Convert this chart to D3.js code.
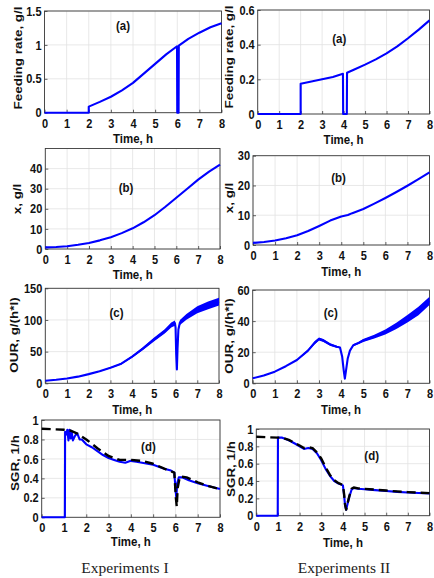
<!DOCTYPE html>
<html><head><meta charset="utf-8">
<script src="https://cdn.jsdelivr.net/npm/d3@7"></script>
<style>body{margin:0;background:#fff}svg{display:block}</style>
</head><body>
<svg id="c" width="434" height="578"></svg>
<script>
// ---------- data ----------
const timeTicks = [0,1,2,3,4,5,6,7,8];

const feedI_t = [0,2,2,2.5,3,3.5,4,4.5,5,5.5,5.99,6.0,6.06,6.07,6.5,7,7.5,8];
const feedI_v = [0,0,0.09,0.16,0.235,0.33,0.44,0.58,0.72,0.86,0.98,0,0,0.99,1.09,1.18,1.26,1.32];

const feedII_t = [0,2,2,2.5,3,3.5,3.97,3.98,4.15,4.16,4.5,5,5.5,6,6.5,7,7.5,8];
const feedII_v = [0,0,0.175,0.187,0.2,0.214,0.232,0,0,0.238,0.257,0.285,0.315,0.35,0.39,0.437,0.487,0.54];

const xI_t = [0,0.5,1,1.5,2,2.5,3,3.5,4,4.5,5,5.5,6,6.5,7,7.5,8];
const xI_v = [0.8,1.0,1.4,2.1,3.0,4.3,5.9,7.9,10.3,13.3,16.8,21,25.5,30,34.5,38.5,42];

const xII_t = [0,0.5,1,1.5,2,2.5,3,3.5,4,4.3,4.5,5,5.5,6,6.5,7,7.5,8];
const xII_v = [0.7,1.0,1.5,2.3,3.3,4.7,6.4,8.2,9.6,10.1,10.7,12.1,13.9,15.8,17.8,19.9,22.1,24.4];

const ourI_t = [0,0.5,1,1.5,2,2.5,3,3.5,4,4.5,5,5.5,5.8,5.97,6.0,6.03,6.06,6.09,6.13,6.2,6.5,7,7.5,8];
const ourI_v = [4,5.5,7.5,10.5,14.5,19,24.5,31,42,55,69,82,92,95,88,45,22,55,85,96,105,116,123,129];
const ourI_n = [0,0,0,0,0.4,0.6,0.8,1.2,1.6,2.4,3,3.5,4,4,2.5,1,0,1,2.5,4,4.5,5.5,6,6];

const ourII_t = [0,0.5,1,1.5,2,2.5,2.8,3,3.2,3.5,3.8,3.95,4.05,4.12,4.17,4.22,4.3,4.4,4.55,4.8,5,5.5,6,6.5,7,7.5,8];
const ourII_v = [3.2,5,7.5,11,15,21,26,28.5,27.5,25,23.5,23,17,8,3,8,16,21,24.5,26,27.5,30,33,37,41.5,46.5,53];
const ourII_n = [0,0,0,0,0.3,0.7,1,1,1,0.8,0.6,0.4,0.2,0,0,0,0.2,0.4,0.6,0.8,1,1.2,1.6,2,2.4,2.7,2.7];

const sgrI_t = [0,1.04,1.05,1.1,1.15,1.2,1.25,1.3,1.35,1.4,1.5,1.6,1.7,1.8,2,2.25,2.5,2.75,3,3.25,3.5,3.75,4,4.25,4.5,5,5.5,5.8,5.95,6.0,6.04,6.08,6.15,6.3,6.6,7,7.5,8];
const sgrI_v = [0,0,0.88,0.85,0.9,0.79,0.9,0.81,0.87,0.79,0.84,0.86,0.8,0.8,0.75,0.72,0.68,0.64,0.61,0.59,0.57,0.56,0.58,0.57,0.56,0.54,0.5,0.48,0.46,0.3,0.2,0.35,0.41,0.41,0.38,0.35,0.32,0.29];
const sgrIm_t = [0,1,1.3,1.6,2,2.5,3,3.5,4,4.5,5,5.5,5.95,6.02,6.06,6.1,6.2,6.5,7,7.5,8];
const sgrIm_v = [0.91,0.9,0.89,0.86,0.8,0.71,0.63,0.59,0.59,0.58,0.55,0.5,0.46,0.2,0.11,0.3,0.42,0.41,0.36,0.32,0.29];

const sgrII_t = [0,0.99,1.0,1.2,1.5,1.8,2,2.2,2.4,2.6,2.8,3,3.2,3.4,3.6,3.8,4.0,4.05,4.1,4.15,4.2,4.3,4.4,4.5,4.7,5,5.5,6,6.5,7,7.5,8];
const sgrII_v = [0,0,0.9,0.9,0.87,0.83,0.8,0.77,0.78,0.77,0.72,0.64,0.54,0.46,0.4,0.37,0.35,0.25,0.12,0.07,0.12,0.22,0.3,0.32,0.31,0.305,0.295,0.285,0.275,0.268,0.262,0.258];
const sgrIIm_t = [0,1.0,1.2,1.5,1.8,2,2.2,2.4,2.6,2.8,3,3.2,3.4,3.6,3.8,4.0,4.05,4.1,4.15,4.2,4.3,4.4,4.5,4.7,5,5.5,6,6.5,7,7.5,8];
const sgrIIm_v = [0.91,0.9,0.9,0.875,0.835,0.81,0.78,0.79,0.78,0.73,0.66,0.56,0.47,0.41,0.375,0.355,0.26,0.13,0.07,0.13,0.23,0.31,0.325,0.315,0.31,0.3,0.29,0.28,0.272,0.265,0.26];

const yTicks1 = [0,0.5,1,1.5];
const yTicks2 = [0,0.2,0.4,0.6];
const yTicks3 = [0,10,20,30,40];
const yTicks4 = [0,10,20,30];
const yTicks5 = [0,50,100,150];
const yTicks6 = [0,20,40,60];
const yTicks7 = [0,0.2,0.4,0.6,0.8,1];

const colTitles = ["Experiments I","Experiments II"];

const zip = (t,v,n) => t.map((d,i)=>({t:d, v:v[i], n:n?n[i]:0}));

// ---------- layout ----------
const panels = [
 {x0:44.5,x1:221.5,yT:11,yB:112.7,ydom:[0,1.5],yt:yTicks1,ylab:"Feeding rate, g/l",ylx:18,yly:58,xlb:30.5,tag:"(a)",tagAt:[3.55,1.29],
  lines:[{d:zip(feedI_t,feedI_v)}]},
 {x0:257.7,x1:429.5,yT:10,yB:114,ydom:[0,0.6],yt:yTicks2,ylab:"Feeding rate, g/l",ylx:229,yly:57,xlb:30,tag:"(a)",tagAt:[3.8,0.433],
  lines:[{d:zip(feedII_t,feedII_v)}]},
 {x0:45.3,x1:220,yT:148.5,yB:249,ydom:[0,50],yt:yTicks3,ylab:"x, g/l",ylx:17,yly:199,xlb:30,tag:"(b)",tagAt:[3.7,30.3],
  lines:[{d:zip(xI_t,xI_v)}]},
 {x0:253,x1:429.5,yT:155.7,yB:245,ydom:[0,30],yt:yTicks4,ylab:"x, g/l",ylx:229,yly:198,xlb:31,tag:"(b)",tagAt:[3.88,22.5],
  lines:[{d:zip(xII_t,xII_v)}]},
 {x0:45.3,x1:219,yT:288.3,yB:383.3,ydom:[0,150],yt:yTicks5,ylab:"OUR, g/(h*l)",ylx:14,yly:335,xlb:30.5,tag:"(c)",tagAt:[3.28,111],
  lines:[{d:zip(ourI_t,ourI_v,ourI_n),band:true}]},
 {x0:252.7,x1:429.5,yT:290,yB:383.3,ydom:[0,60],yt:yTicks6,ylab:"OUR, g/(h*l)",ylx:229,yly:336,xlb:30.5,tag:"(c)",tagAt:[3.53,45.2],
  lines:[{d:zip(ourII_t,ourII_v,ourII_n),band:true}]},
 {x0:41.7,x1:220,yT:420,yB:517.3,ydom:[0,1],yt:yTicks7,ylab:"SGR, 1/h",ylx:15,yly:463,xlb:29,tag:"(d)",tagAt:[4.79,0.728],
  lines:[{d:zip(sgrI_t,sgrI_v)},{d:zip(sgrIm_t,sgrIm_v),dash:true}]},
 {x0:256.3,x1:429.5,yT:429,yB:515.7,ydom:[0,1],yt:yTicks7,ylab:"SGR, 1/h",ylx:231,yly:469,xlb:31,tag:"(d)",tagAt:[5.33,0.689],
  lines:[{d:zip(sgrII_t,sgrII_v)},{d:zip(sgrIIm_t,sgrIIm_v),dash:true}]}
];

const svg = d3.select("#c");
const SANS = "'Liberation Sans', Arial, sans-serif";
const SY = 1.17; // vertical stretch of the original's text

panels.forEach(p=>{
  const x = d3.scaleLinear().domain([0,8]).range([p.x0,p.x1]);
  const y = d3.scaleLinear().domain(p.ydom).range([p.yB,p.yT]);
  const g = svg.append("g");

  // grid
  g.append("g").selectAll("line").data(timeTicks).join("line")
    .attr("x1",d=>x(d)).attr("x2",d=>x(d)).attr("y1",p.yT).attr("y2",p.yB)
    .attr("stroke","#e2e2e2").attr("stroke-width",0.8);
  g.append("g").selectAll("line").data(p.yt).join("line")
    .attr("x1",p.x0).attr("x2",p.x1).attr("y1",d=>y(d)).attr("y2",d=>y(d))
    .attr("stroke","#e2e2e2").attr("stroke-width",0.8);

  // box
  g.append("rect").attr("x",p.x0).attr("y",p.yT).attr("width",p.x1-p.x0).attr("height",p.yB-p.yT)
    .attr("fill","none").attr("stroke","#3a3a3a").attr("stroke-width",0.9);

  // axes
  const ax = g.append("g").attr("transform",`translate(0,${p.yB})`)
    .call(d3.axisBottom(x).tickValues(timeTicks).tickSize(-3).tickPadding(5).tickFormat(d=>String(d)));
  const ay = g.append("g").attr("transform",`translate(${p.x0},0)`)
    .call(d3.axisLeft(y).tickValues(p.yt).tickSize(-3).tickPadding(3).tickFormat(d=>String(d)));
  [ax,ay].forEach(a=>{
    a.select(".domain").remove();
    a.selectAll(".tick line").attr("stroke","#3a3a3a").attr("stroke-width",0.8);
    a.selectAll("text").attr("font-family",SANS).attr("font-weight","bold").attr("font-size",11)
      .attr("fill","#111").attr("transform",`scale(1,${SY})`);
  });

  // series
  p.lines.forEach(s=>{
    if(s.band){
      g.append("path").datum(s.d)
        .attr("d",d3.area().x(d=>x(d.t)).y0(d=>y(d.v-d.n)).y1(d=>y(d.v+d.n)))
        .attr("fill","#0000ff");
    }
    g.append("path").datum(s.d)
      .attr("d",d3.line().x(d=>x(d.t)).y(d=>y(d.v)))
      .attr("fill","none")
      .attr("stroke",s.dash?"#000":"#0000ff")
      .attr("stroke-width",s.dash?2.4:2.1)
      .attr("stroke-dasharray",s.dash?"9,5":null)
      .attr("stroke-linejoin","round");
  });

  // x label
  g.append("text").attr("font-family",SANS).attr("font-weight","bold").attr("font-size",11.5).attr("fill","#111")
    .attr("text-anchor","middle")
    .attr("transform",`translate(${(p.x0+p.x1)/2},${p.yB+p.xlb}) scale(1,${SY})`)
    .text("Time, h");
  // y label
  g.append("text").attr("font-family",SANS).attr("font-weight","bold").attr("font-size",11.5).attr("fill","#111")
    .attr("text-anchor","middle").attr("dominant-baseline","central")
    .attr("transform",`translate(${p.ylx},${p.yly}) scale(1,${SY}) rotate(-90)`)
    .text(p.ylab);
  // panel tag
  g.append("text").attr("font-family",SANS).attr("font-weight","bold").attr("font-size",11.5).attr("fill","#111")
    .attr("text-anchor","middle").attr("dominant-baseline","central")
    .attr("transform",`translate(${x(p.tagAt[0])},${y(p.tagAt[1])}) scale(1,${SY})`)
    .text(p.tag);
});

// column captions
svg.selectAll("text.cap").data(colTitles).join("text").attr("class","cap")
  .attr("x",(d,i)=>i===0?125:344).attr("y",573)
  .attr("text-anchor","middle").attr("font-family","'Liberation Serif','Times New Roman',serif")
  .attr("font-size",15.5).attr("fill","#222").text(d=>d);
</script>
</body></html>
